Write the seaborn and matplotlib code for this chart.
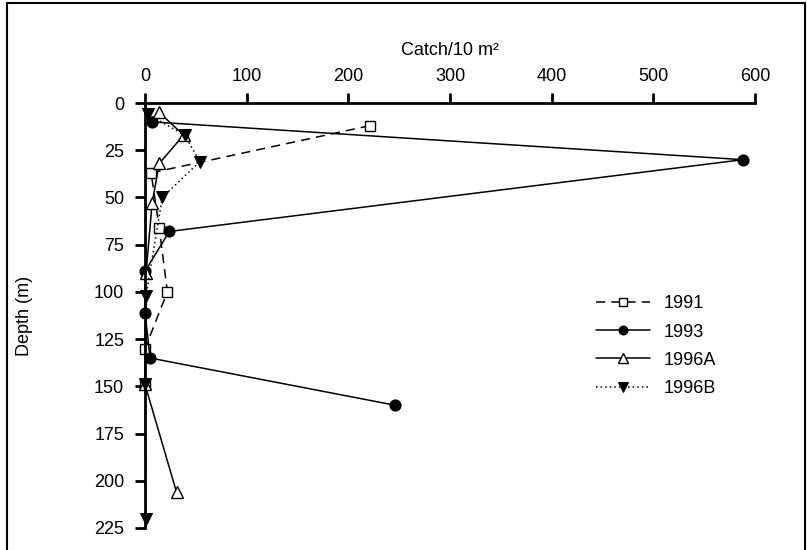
import matplotlib
matplotlib.use("Agg")
import matplotlib.pyplot as plt
from matplotlib.patches import Rectangle
import seaborn as sns

# --- DATA (catch per 10 m2 vs depth in m) ---
catch_1991 = [221, 6, 14, 22, 0, 0]
depth_1991 = [12, 37, 66, 100, 130, 149]

catch_1993 = [7, 588, 24, 0, 0, 5, 246]
depth_1993 = [10, 30, 68, 89, 111, 135, 160]

catch_1996a = [14, 38, 14, 7, 1, 0, 31]
depth_1996a = [5, 17, 32, 53, 90, 149, 206]

catch_1996b = [3, 39, 54, 17, 1, 0, 1]
depth_1996b = [6, 17, 31, 50, 102, 149, 220]

x_ticks = [0, 100, 200, 300, 400, 500, 600]
y_ticks = [0, 25, 50, 75, 100, 125, 150, 175, 200, 225]

sns.set_style("white")
plt.rcParams["font.family"] = ["Liberation Sans", "DejaVu Sans"]
plt.rcParams["text.color"] = "black"
plt.rcParams["axes.labelcolor"] = "black"

fig = plt.figure(figsize=(8.07, 5.5), dpi=100)
ax = fig.add_axes([145 / 807, 1 - 528 / 550, 610 / 807, 425 / 550])

common = dict(sort=False, estimator=None, color="black", lw=1.1, ax=ax, clip_on=False)

sns.lineplot(x=catch_1991, y=depth_1991, marker="s", ms=7, mfc="white", mec="black",
             mew=1.0, linestyle=(0, (6, 4)), label="1991", **common)
sns.lineplot(x=catch_1993, y=depth_1993, marker="o", ms=8, mfc="black", mec="black",
             linestyle="-", label="1993", **common)
sns.lineplot(x=catch_1996a, y=depth_1996a, marker="^", ms=9, mfc="white", mec="black",
             mew=1.0, linestyle="-", label="1996A", **common)
sns.lineplot(x=catch_1996b, y=depth_1996b, marker="v", ms=9, mfc="black", mec="black",
             linestyle=(0, (1, 2)), label="1996B", **common)

ax.set_xlim(0, 600)
ax.set_ylim(225, 0)
ax.set_xticks(x_ticks)
ax.set_yticks(y_ticks)
ax.xaxis.tick_top()
ax.xaxis.set_label_position("top")
ax.set_xlabel("Catch/10 m²", fontsize=13, labelpad=9, color="black")
ax.set_ylabel("Depth (m)", fontsize=13, labelpad=44, color="black")
ax.tick_params(axis="both", direction="out", length=7, width=2, pad=8,
               labelsize=13, colors="black")
ax.tick_params(axis="x", top=True, bottom=False, pad=6)
ax.tick_params(axis="y", left=True, right=False)
for side in ["right", "bottom"]:
    ax.spines[side].set_visible(False)
for side in ["left", "top"]:
    ax.spines[side].set_linewidth(2)
    ax.spines[side].set_color("black")

leg = ax.legend(loc="center left", bbox_to_anchor=(0.739, 0.428), frameon=False,
                fontsize=13, handlelength=3.0, handletextpad=0.75, labelspacing=0.62,
                borderaxespad=0, borderpad=0, markerscale=0.8)
for t in leg.get_texts():
    t.set_color("black")

# outer frame around the figure
fig.patches.append(Rectangle((7 / 807, -0.1), 798 / 807, 1.1 - 3 / 550,
                             transform=fig.transFigure, fill=False,
                             lw=1.5, ec="black"))

fig.savefig("out.png", dpi=100)
